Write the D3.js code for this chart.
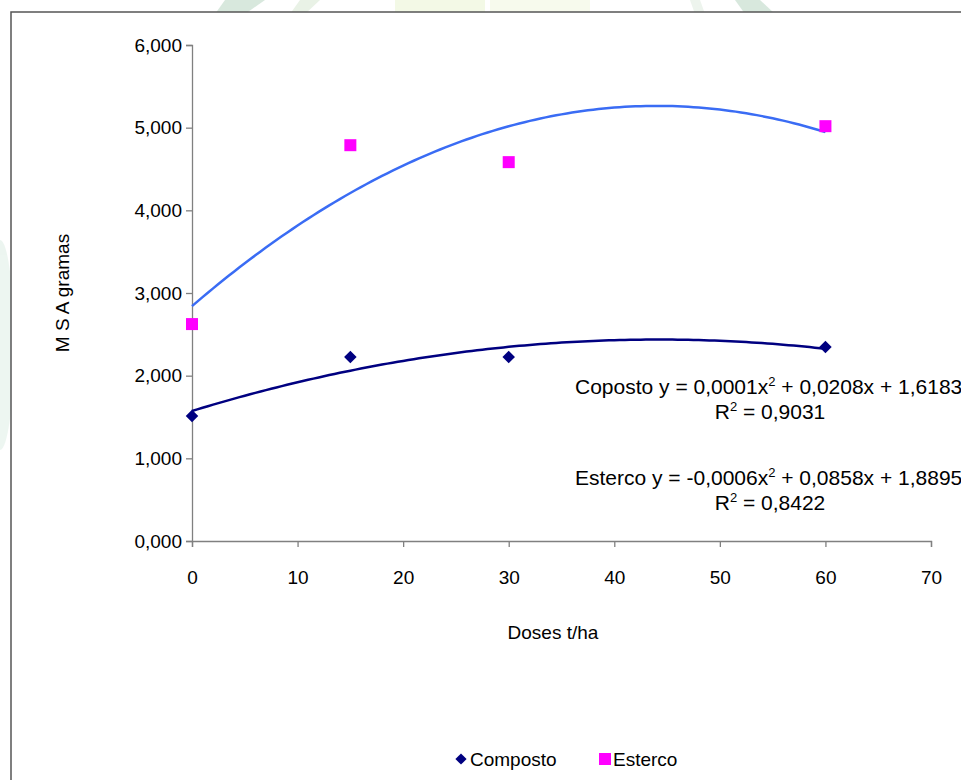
<!DOCTYPE html>
<html>
<head>
<meta charset="utf-8">
<script src="https://cdn.jsdelivr.net/npm/d3@7"></script>
<style>
  body { margin: 0; background: #fff; }
  svg { display: block; font-family: "Liberation Sans", Arial, sans-serif; }
</style>
</head>
<body>
<svg id="chart" width="961" height="780"></svg>
<script>
// data
var doses = [0, 15, 30, 60];
var composto = [1.511, 2.225, 2.225, 2.346];
var esterco = [2.624, 4.788, 4.583, 5.018];
var xTicks = [0, 10, 20, 30, 40, 50, 60, 70];
var yTicks = [0, 1, 2, 3, 4, 5, 6];
var seriesNames = ["Composto", "Esterco"];
var eqComposto = ["Coposto y = 0,0001x", " + 0,0208x + 1,6183", "0,9031"];
var eqEsterco = ["Esterco y = -0,0006x", " + 0,0858x + 1,8895", "0,8422"];

var svg = d3.select("#chart");

// faint background picture behind the chart frame
var bg = svg.append("g").attr("opacity", 0.45);
bg.append("polygon").attr("points", "225,0 265,0 245,14 215,14").attr("fill", "#a9cdb6");
bg.append("polygon").attr("points", "300,0 320,0 305,14 290,14").attr("fill", "#cfe3c8");
bg.append("rect").attr("x", 395).attr("y", 0).attr("width", 90).attr("height", 14).attr("fill", "#e6f2c8");
bg.append("rect").attr("x", 490).attr("y", 0).attr("width", 100).attr("height", 14).attr("fill", "#eef5d8");
bg.append("polygon").attr("points", "735,0 760,0 775,14 745,14").attr("fill", "#a9cdb6");
bg.append("polygon").attr("points", "690,0 700,0 705,14 695,14").attr("fill", "#d8e8d8");
bg.append("ellipse").attr("cx", 0).attr("cy", 345).attr("rx", 14).attr("ry", 105).attr("fill", "#d7ebe0");

// chart frame
svg.append("rect")
  .attr("x", 11).attr("y", 12).attr("width", 1000).attr("height", 800)
  .attr("fill", "#fff").attr("stroke", "#555").attr("stroke-width", 1.5);

var x = d3.scaleLinear().domain([0, 70]).range([192, 931]);
var y = d3.scaleLinear().domain([0, 6]).range([541, 45]);

var ptBR = d3.formatLocale({decimal: ",", thousands: ".", grouping: [3], currency: ["R$", ""]});
var fmt3 = ptBR.format(".3f");

var fontSize = "19px";

// y axis
var yAxis = svg.append("g").attr("transform", "translate(192,0)")
  .call(d3.axisLeft(y).tickValues(yTicks).tickFormat(fmt3).tickSize(6).tickPadding(4));
// x axis
var xAxis = svg.append("g").attr("transform", "translate(0,541)")
  .call(d3.axisBottom(x).tickValues(xTicks).tickFormat(d3.format("d")).tickSize(6).tickPadding(24));

[yAxis, xAxis].forEach(function(a) {
  a.select(".domain").attr("stroke", "#808080").attr("stroke-width", 1.3);
  a.selectAll(".tick line").attr("stroke", "#808080").attr("stroke-width", 1.3);
  a.selectAll(".tick text").attr("fill", "#000").style("font-size", fontSize)
    .style("font-family", "'Liberation Sans', Arial, sans-serif");
});

// least squares quadratic fit
function quadFit(xs, ys) {
  var s = [0, 0, 0, 0, 0], t = [0, 0, 0];
  for (var i = 0; i < xs.length; i++) {
    var p = 1;
    for (var k = 0; k < 5; k++) { s[k] += p; if (k < 3) t[k] += p * ys[i]; p *= xs[i]; }
  }
  var m = [[s[0], s[1], s[2], t[0]], [s[1], s[2], s[3], t[1]], [s[2], s[3], s[4], t[2]]];
  for (var c = 0; c < 3; c++) {
    for (var r = c + 1; r < 3; r++) {
      var f = m[r][c] / m[c][c];
      for (var j = c; j < 4; j++) m[r][j] -= f * m[c][j];
    }
  }
  var b = [0, 0, 0];
  for (var r2 = 2; r2 >= 0; r2--) {
    var v = m[r2][3];
    for (var j2 = r2 + 1; j2 < 3; j2++) v -= m[r2][j2] * b[j2];
    b[r2] = v / m[r2][r2];
  }
  return function(xv) { return b[0] + b[1] * xv + b[2] * xv * xv; };
}

var line = d3.line().x(function(d) { return x(d[0]); }).y(function(d) { return y(d[1]); });

function trend(ys, color) {
  var f = quadFit(doses, ys);
  var pts = d3.range(0, 60.01, 0.5).map(function(d) { return [d, f(d)]; });
  svg.append("path").datum(pts).attr("d", line)
    .attr("fill", "none").attr("stroke", color).attr("stroke-width", 2.5);
}
trend(esterco, "#3a6cf4");
trend(composto, "#000080");

// markers
var diamond = d3.symbol().type(d3.symbolDiamond2).size(100);
svg.append("g").selectAll("path").data(doses).enter().append("path")
  .attr("d", diamond)
  .attr("transform", function(d, i) { return "translate(" + x(d) + "," + y(composto[i]) + ")"; })
  .attr("fill", "#000080");
svg.append("g").selectAll("rect").data(doses).enter().append("rect")
  .attr("x", function(d) { return x(d) - 6; })
  .attr("y", function(d, i) { return y(esterco[i]) - 6; })
  .attr("width", 12).attr("height", 12)
  .attr("fill", "#ff00ff");

// axis titles
svg.append("text").attr("transform", "translate(69,293) rotate(-90)")
  .attr("text-anchor", "middle").style("font-size", fontSize).text("M S A gramas");
svg.append("text").attr("x", 553).attr("y", 639)
  .attr("text-anchor", "middle").style("font-size", fontSize).text("Doses t/ha");

// trendline equations
var eqSize = "21px", supSize = "13px";
function equation(eq, yBase) {
  var t = svg.append("text").attr("x", 575).attr("y", yBase).style("font-size", eqSize);
  t.append("tspan").text(eq[0]);
  t.append("tspan").attr("dy", -8).style("font-size", supSize).text("2");
  t.append("tspan").attr("dy", 8).text(eq[1]);
  var r = svg.append("text").attr("x", 770).attr("y", yBase + 25)
    .attr("text-anchor", "middle").style("font-size", eqSize);
  r.append("tspan").text("R");
  r.append("tspan").attr("dy", -8).style("font-size", supSize).text("2");
  r.append("tspan").attr("dy", 8).text(" = " + eq[2]);
}
equation(eqComposto, 394);
equation(eqEsterco, 485);

// legend
var lg = svg.append("g");
lg.append("path").attr("d", d3.symbol().type(d3.symbolDiamond2).size(80))
  .attr("transform", "translate(461,759)").attr("fill", "#000080");
lg.append("text").attr("x", 470).attr("y", 766).style("font-size", fontSize).text(seriesNames[0]);
lg.append("rect").attr("x", 599).attr("y", 753).attr("width", 12).attr("height", 12).attr("fill", "#ff00ff");
lg.append("text").attr("x", 613).attr("y", 766).style("font-size", fontSize).text(seriesNames[1]);
</script>
</body>
</html>
